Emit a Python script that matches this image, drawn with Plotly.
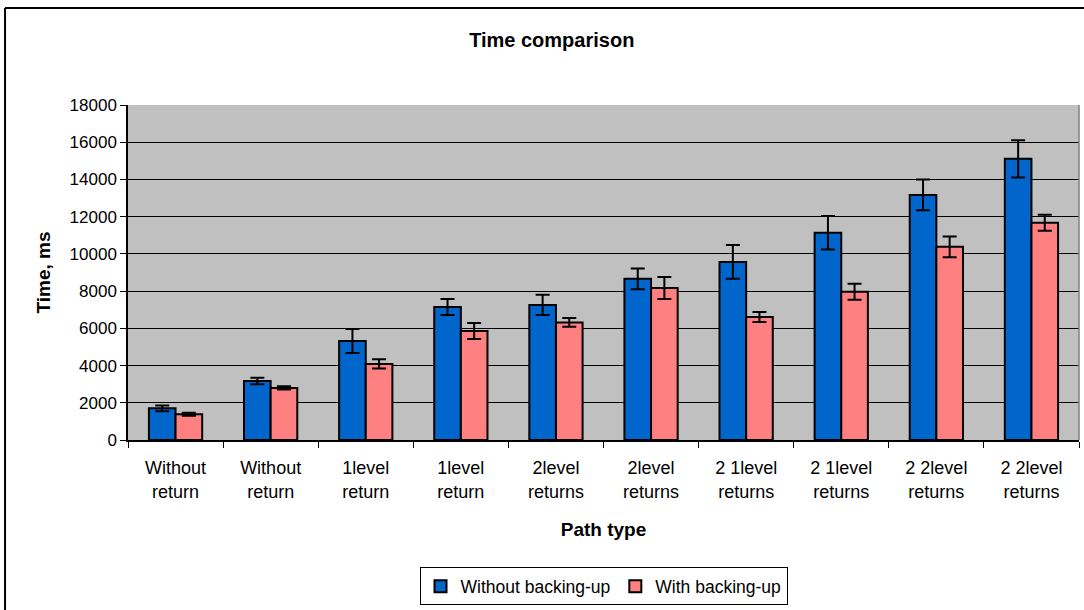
import plotly.graph_objects as go

categories = ["Without<br>return", "Without<br>return", "1level<br>return", "1level<br>return",
              "2level<br>returns", "2level<br>returns", "2 1level<br>returns", "2 1level<br>returns",
              "2 2level<br>returns", "2 2level<br>returns"]
without_backup = [1700, 3170, 5320, 7150, 7260, 8660, 9570, 11130, 13170, 15110]
without_err = [150, 180, 650, 430, 540, 560, 910, 900, 830, 1000]
with_backup = [1380, 2800, 4090, 5860, 6320, 8170, 6610, 7960, 10380, 11670]
with_err = [80, 90, 250, 430, 240, 590, 270, 430, 560, 430]
y_ticks = [0, 2000, 4000, 6000, 8000, 10000, 12000, 14000, 16000, 18000]

x = list(range(len(categories)))
font = "Liberation Sans, Arial, sans-serif"

fig = go.Figure()
fig.add_trace(go.Bar(
    x=x, y=without_backup, name="Without backing-up",
    marker=dict(color="#0066CC", line=dict(color="black", width=2)),
    error_y=dict(type="data", array=without_err, visible=True, color="black", thickness=2, width=7),
))
fig.add_trace(go.Bar(
    x=x, y=with_backup, name="With backing-up",
    marker=dict(color="#FF8080", line=dict(color="black", width=2)),
    error_y=dict(type="data", array=with_err, visible=True, color="black", thickness=2, width=7),
))

fig.update_layout(
    width=1084, height=610,
    margin=dict(l=128, r=5, t=105, b=170),
    paper_bgcolor="white", plot_bgcolor="#C0C0C0",
    barmode="group", bargap=0.44, bargroupgap=0,
    font=dict(family=font, size=18, color="black"),
    title=dict(text="<b>Time comparison</b>", xref="container", x=0.509, xanchor="center",
               y=0.934, yanchor="middle", font=dict(size=20, family=font)),
    showlegend=True,
    legend=dict(orientation="h", x=0.5, xanchor="center", y=-0.38, yanchor="top",
                bordercolor="black", borderwidth=1, bgcolor="white",
                font=dict(size=17.5), itemwidth=30, traceorder="normal"),
)
fig.update_xaxes(
    range=[-0.5, len(categories) - 0.5],
    tickmode="array", tickvals=x, ticktext=categories, ticks="",
    tickfont=dict(size=18), ticklabelstandoff=11,
    showline=True, linecolor="black", linewidth=1.5, showgrid=False, zeroline=False,
    minor=dict(tickmode="array", tickvals=[i - 0.5 for i in range(len(categories) + 1)],
               ticks="outside", ticklen=6, tickcolor="black", showgrid=False),
    title=dict(text="<b>Path type</b>", font=dict(size=19), standoff=22),
)
fig.update_yaxes(
    range=[0, 18000], tickmode="array", tickvals=y_ticks, ticktext=[str(v) for v in y_ticks],
    tickfont=dict(size=17),
    ticks="outside", ticklen=6, tickcolor="black",
    showline=True, linecolor="black", linewidth=1.5,
    showgrid=True, gridcolor="black", gridwidth=1, zeroline=False,
    title=dict(text="<b>Time, ms</b>", font=dict(size=19), standoff=14),
)

# right border of plot area (gray) and outer chart frame
fig.add_shape(type="line", xref="paper", yref="paper", x0=1, x1=1, y0=0, y1=1,
              line=dict(color="#808080", width=1.5))
fig.add_shape(type="line", xref="paper", yref="paper", x0=-0.1293, x1=1.01, y0=1.2896, y1=1.2896,
              line=dict(color="black", width=2))
fig.add_shape(type="line", xref="paper", yref="paper", x0=-0.1293, x1=-0.1293, y0=1.2896, y1=-0.52,
              line=dict(color="black", width=2))

fig.write_html("out.html", config={"displayModeBar": False},
               post_script="document.body.style.margin='0';")
